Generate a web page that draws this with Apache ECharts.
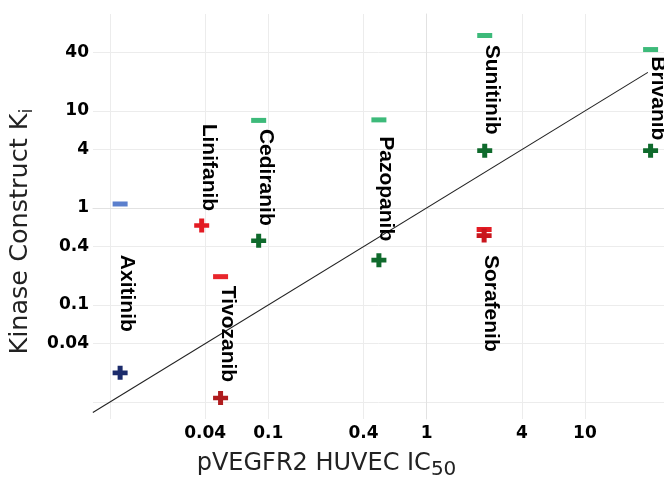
<!DOCTYPE html>
<html><head><meta charset="utf-8">
<script src="https://cdn.jsdelivr.net/npm/echarts@6/dist/echarts.min.js"></script>
<style>html,body{margin:0;padding:0;background:#fff}#c{width:664px;height:483px}</style>
</head><body><div id="c"></div>
<script>
// ---- data (values in original units) ----
const drugs   = ['Axitinib','Linifanib','Tivozanib','Cediranib','Pazopanib','Sunitinib','Sorafenib','Brivanib'];
const ic50    = [0.0116, 0.038, 0.050, 0.087, 0.50, 2.33, 2.31, 26];      // pVEGFR2 HUVEC IC50
const kiMinus = [1.1, null, 0.196, 8.0, 8.1, 60, 0.60, 43];             // "-" construct Ki
const kiPlus  = [0.020, 0.66, 0.011, 0.46, 0.29, 3.9, 0.52, 3.9];        // "+" construct Ki
const labelKi = [0.132, 2.62, 0.0503, 2.07, 1.58, 16.6, 0.104, 13.5];    // drug-name label anchor (Ki units)
const identityRange = [0.0078, 25];                                       // y = x reference line
const gridTicks   = [0.01, 0.04, 0.1, 0.4, 1, 4, 10, 40];
const xTickLabels = [0.04, 0.1, 0.4, 1, 4, 10];
const yTickLabels = [0.04, 0.1, 0.4, 1, 4, 10, 40];
const xRange = [0.00782, 31.6];
const yRange = [0.00668, 100];

// ---- styles ----
const minusColors = ['#5b7fcd', null, '#e8262c', '#3dba7a', '#3dba7a', '#3dba7a', '#e31b23', '#3dba7a'];
const plusColors  = ['#1b2b6b', '#e31b23', '#b01c1e', '#0f6a2c', '#0f6a2c', '#0f6a2c', '#c9161d', '#0f6a2c'];

const L = v => Math.log10(v);
const fmt = v => String(parseFloat(Math.pow(10, v).toPrecision(2)));
const PLUS = 'path://M5,0 L10,0 L10,5 L15,5 L15,10 L10,10 L10,15 L5,15 L5,10 L0,10 L0,5 L5,5 Z';

const minusData = [], plusData = [], labelData = [];
drugs.forEach((d, i) => {
  if (kiMinus[i] != null) minusData.push({value: [L(ic50[i]), L(kiMinus[i])], itemStyle: {color: minusColors[i], opacity: 1}});
  plusData.push({value: [L(ic50[i]), L(kiPlus[i])], itemStyle: {color: plusColors[i], opacity: 1}});
  labelData.push({value: [L(ic50[i]), L(labelKi[i])], name: d});
});

const tickFont = {fontFamily: 'DejaVu Sans', fontWeight: 'bold', fontSize: 17, color: '#000'};

const chart = echarts.init(document.getElementById('c'), null, {renderer: 'canvas'});
chart.setOption({
  animation: false,
  backgroundColor: '#fff',
  grid: {left: 93, right: 0, top: 14, bottom: 64, containLabel: false, outerBoundsMode: 'none'},
  xAxis: {
    type: 'value', min: L(xRange[0]), max: L(xRange[1]),
    axisLine: {show: true, lineStyle: {color: '#e2e2e2', width: 1}},
    axisTick: {show: false, customValues: gridTicks.map(L)},
    splitLine: {show: true, lineStyle: {color: '#ececec', width: 1}},
    axisLabel: Object.assign({customValues: xTickLabels.map(L), formatter: fmt, margin: 6}, tickFont),
    name: '{m|pVEGFR2 HUVEC IC}{s|50}',
    nameLocation: 'middle', nameGap: 21,
    nameTextStyle: {
      padding: [0, 104, 0, 0],
      rich: {
        m: {fontFamily: 'DejaVu Sans', fontSize: 24, color: '#222', lineHeight: 28},
        s: {fontFamily: 'DejaVu Sans', fontSize: 20, color: '#222', lineHeight: 20, padding: [13, 0, 0, 0]}
      }
    }
  },
  yAxis: {
    type: 'value', min: L(yRange[0]), max: L(yRange[1]),
    axisLine: {show: true, lineStyle: {color: '#e2e2e2', width: 1}},
    axisTick: {show: false, customValues: gridTicks.map(L)},
    splitLine: {show: true, lineStyle: {color: '#ececec', width: 1}},
    axisLabel: Object.assign({customValues: yTickLabels.map(L), formatter: fmt, margin: 4}, tickFont),
    name: '{m|Kinase Construct K}{s|i}',
    nameLocation: 'middle', nameGap: 50,
    nameTextStyle: {
      padding: [0, 30, 0, 0],
      rich: {
        m: {fontFamily: 'DejaVu Sans', fontSize: 25.5, color: '#222', lineHeight: 29},
        s: {fontFamily: 'DejaVu Sans', fontSize: 18, color: '#222', lineHeight: 20, padding: [13, 0, 0, 0]}
      }
    }
  },
  series: [
    {
      type: 'line', name: 'identity', symbol: 'none', silent: true, z: 1,
      lineStyle: {color: '#222', width: 1.1},
      data: identityRange.map(v => [L(v), L(v)])
    },
    {
      type: 'scatter', name: 'labels', symbolSize: 0, silent: true, z: 2,
      itemStyle: {opacity: 1},
      data: labelData,
      label: {
        show: true, position: 'inside', rotate: -90, offset: [0, -7],
        formatter: p => p.name, opacity: 1,
        fontFamily: 'Liberation Sans', fontWeight: 'bold', fontSize: 21, color: '#000'
      }
    },
    {
      type: 'scatter', name: 'minus', symbol: 'rect', symbolSize: [15, 5], z: 3,
      itemStyle: {opacity: 1},
      data: minusData
    },
    {
      type: 'scatter', name: 'plus', symbol: PLUS, symbolSize: [15, 14], z: 4,
      itemStyle: {opacity: 1},
      data: plusData
    }
  ]
});
</script></body></html>
